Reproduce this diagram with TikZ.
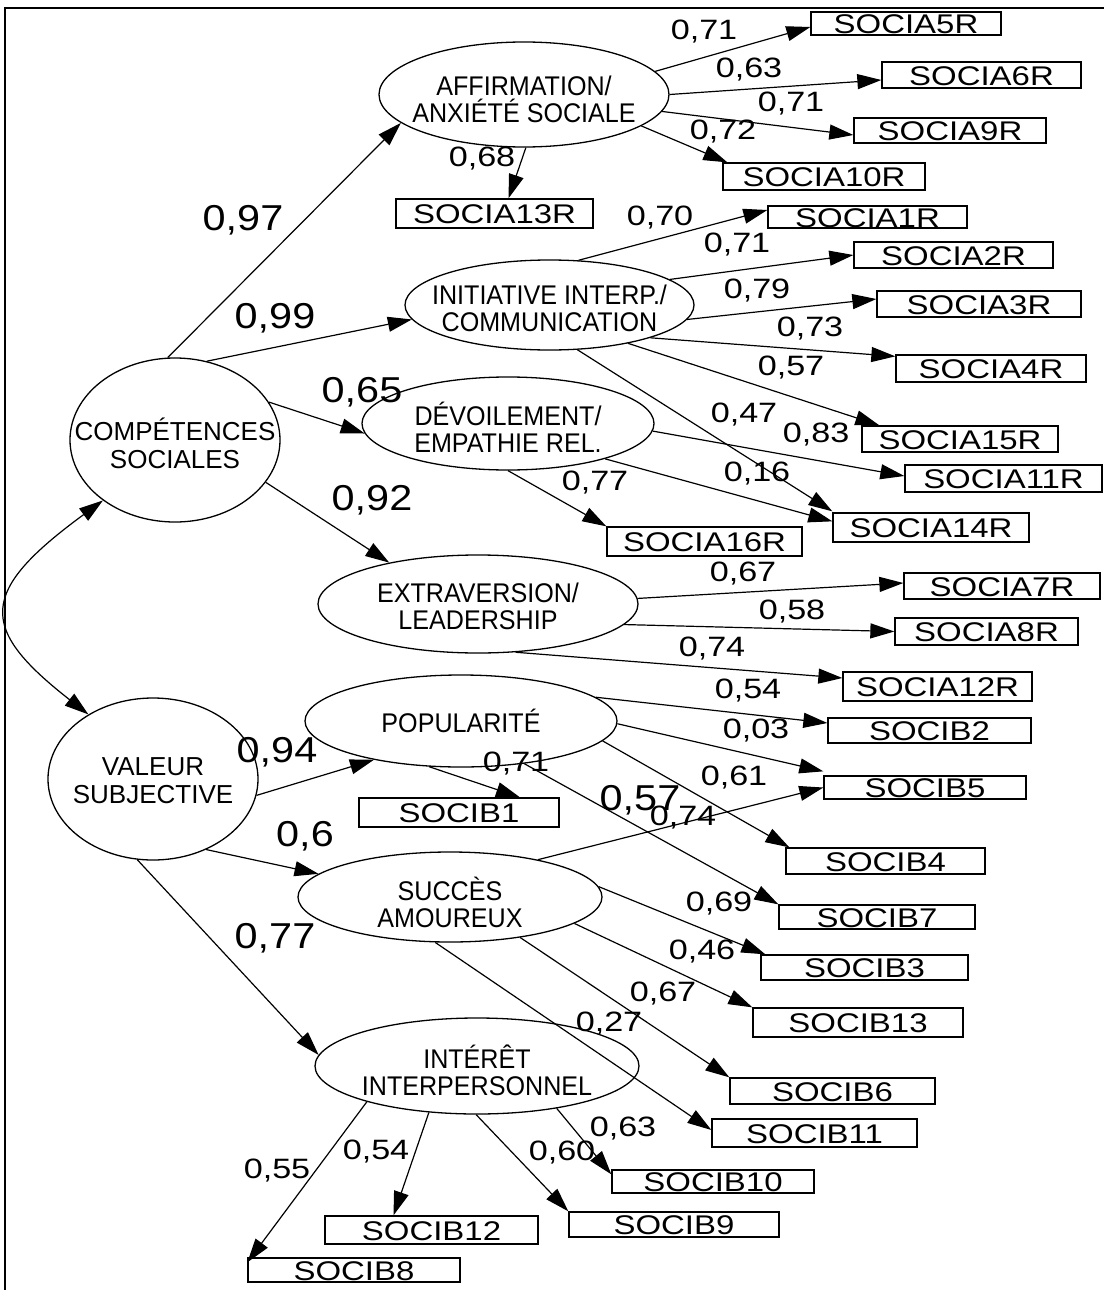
\documentclass[tikz,border=0pt]{standalone}
\usepackage{fontspec}
\setmainfont{Liberation Sans}
\newfontfamily\labfont[FakeStretch=1.22]{Liberation Sans}
\newfontfamily\coeffont[FakeStretch=1.15]{Liberation Sans}
\newfontfamily\latfont[FakeStretch=0.93]{Liberation Sans}
\usetikzlibrary{shapes.geometric,arrows.meta}
\begin{document}
\begin{tikzpicture}[x=1pt,y=-1pt,
  lat/.style={ellipse, draw, line width=1.3pt, inner sep=0pt},
  lattext/.style={inner sep=0pt, align=center, font=\latfont\fontsize{27}{27}\selectfont},
  bigtext/.style={inner sep=0pt, align=center, font=\fontsize{26}{28}\selectfont},
  obs/.style={rectangle, draw, line width=1.3pt, inner sep=0pt, text height=20pt, text depth=0pt, font=\labfont\fontsize{27}{27}\selectfont},
  ld/.style={-{Triangle[length=24pt,width=15pt]}, line width=1.2pt},
  sm/.style={font=\labfont\fontsize{28}{28}\selectfont, inner sep=0pt},
  bg/.style={font=\coeffont\fontsize{36}{36}\selectfont, inner sep=0pt}]
\useasboundingbox (0,0) rectangle (1104,1290);
\fill[white] (0,0) rectangle (1104,1290);
\draw[line width=1.8pt] (5,1290) -- (5,8) -- (1104,8);

% latent variables (shapes)
\node[lat, minimum width=290pt, minimum height=105pt] (A) at (524,94.5) {};
\node[lat, minimum width=289pt, minimum height=90pt] (I) at (549.5,305) {};
\node[lat, minimum width=292pt, minimum height=93pt] (D) at (508,423.5) {};
\node[lat, minimum width=320pt, minimum height=98pt] (E) at (478,604) {};
\node[lat, minimum width=312pt, minimum height=92pt] (P) at (461,721) {};
\node[lat, minimum width=304pt, minimum height=90pt] (S) at (450,897) {};
\node[lat, minimum width=324pt, minimum height=96pt] (T) at (477,1066) {};
\node[lat, minimum width=210pt, minimum height=164pt] (C) at (175,440) {};
\node[lat, minimum width=210pt, minimum height=162pt] (V) at (153,779) {};
% latent variables (texts)
\node[lattext] (At) at ([yshift=-5pt]A.center) {AFFIRMATION/\\ANXIÉTÉ SOCIALE};
\node[lattext] (It) at ([yshift=-3pt]I.center) {INITIATIVE INTERP./\\COMMUNICATION};
\node[lattext] (Dt) at ([yshift=-4pt]D.center) {DÉVOILEMENT/\\EMPATHIE REL.};
\node[lattext] (Et) at ([yshift=-2pt]E.center) {EXTRAVERSION/\\LEADERSHIP};
\node[lattext] (Pt) at (P.center) {POPULARITÉ};
\node[lattext] (St) at ([yshift=-5pt]S.center) {SUCCÈS\\AMOUREUX};
\node[lattext] (Tt) at ([yshift=-4pt]T.center) {INTÉRÊT\\INTERPERSONNEL};
\node[bigtext] (Ct) at ([yshift=-3pt]C.center) {COMPÉTENCES\\SOCIALES};
\node[bigtext] (Vt) at ([yshift=-1.5pt]V.center) {VALEUR\\SUBJECTIVE};

% observed variables
\node[obs, minimum width=190pt, minimum height=23pt] (s5) at (906,23.5) {SOCIA5R};
\node[obs, minimum width=199pt, minimum height=26pt] (s6) at (981.5,75) {SOCIA6R};
\node[obs, minimum width=192pt, minimum height=25pt] (s9) at (950,130.5) {SOCIA9R};
\node[obs, minimum width=202pt, minimum height=27pt] (s10) at (824,176.5) {SOCIA10R};
\node[obs, minimum width=197pt, minimum height=29pt] (s13) at (494.5,213.5) {SOCIA13R};
\node[obs, minimum width=199pt, minimum height=22pt] (s1) at (867.5,217) {SOCIA1R};
\node[obs, minimum width=199pt, minimum height=26pt] (s2) at (953.5,255) {SOCIA2R};
\node[obs, minimum width=204pt, minimum height=26pt] (s3) at (979,304) {SOCIA3R};
\node[obs, minimum width=190pt, minimum height=27pt] (s4) at (991,368.5) {SOCIA4R};
\node[obs, minimum width=196pt, minimum height=26pt] (s15) at (960,439) {SOCIA15R};
\node[obs, minimum width=197pt, minimum height=27pt] (s11) at (1003.5,478.5) {SOCIA11R};
\node[obs, minimum width=196pt, minimum height=29pt] (s14) at (931,527.5) {SOCIA14R};
\node[obs, minimum width=195pt, minimum height=29pt] (s16) at (704.5,541.5) {SOCIA16R};
\node[obs, minimum width=196pt, minimum height=26pt] (s7) at (1002,586) {SOCIA7R};
\node[obs, minimum width=183pt, minimum height=27pt] (s8) at (986.5,631.5) {SOCIA8R};
\node[obs, minimum width=189pt, minimum height=29pt] (s12) at (937.5,686.5) {SOCIA12R};
\node[obs, minimum width=203pt, minimum height=25pt] (b2) at (929.5,730.5) {SOCIB2};
\node[obs, minimum width=202pt, minimum height=23pt] (b5) at (925,787.5) {SOCIB5};
\node[obs, minimum width=200pt, minimum height=29pt] (b1) at (459,812.5) {SOCIB1};
\node[obs, minimum width=199pt, minimum height=26pt] (b4) at (885.5,861) {SOCIB4};
\node[obs, minimum width=196pt, minimum height=24pt] (b7) at (877,917) {SOCIB7};
\node[obs, minimum width=207pt, minimum height=25pt] (b3) at (864.5,967.5) {SOCIB3};
\node[obs, minimum width=210pt, minimum height=29pt] (b13) at (858,1022.5) {SOCIB13};
\node[obs, minimum width=205pt, minimum height=26pt] (b6) at (832.5,1091) {SOCIB6};
\node[obs, minimum width=205pt, minimum height=28pt] (b11) at (814.5,1133) {SOCIB11};
\node[obs, minimum width=202pt, minimum height=23pt] (b10) at (713,1181.5) {SOCIB10};
\node[obs, minimum width=210pt, minimum height=25pt] (b9) at (674,1224.5) {SOCIB9};
\node[obs, minimum width=213pt, minimum height=28pt] (b12) at (431.5,1230) {SOCIB12};
\node[obs, minimum width=212pt, minimum height=24pt] (b8) at (354,1270) {SOCIB8};

% structural paths
\draw[ld] (C.95) -- (A.193);
\draw[ld] (C.68) -- (I.186);
\draw[ld] (C.22) -- (D.184);
\draw[ld] (C.-25) -- (E.155);
\draw[ld] (V.-9) -- (P.204);
\draw[ld] (V.-53) -- (S.170);
\draw[ld] (V.-101) -- (T.176);
\draw[{Triangle[length=24pt,width=15pt]}-{Triangle[length=24pt,width=15pt]}, line width=1.2pt]
  (C.220) .. controls (-22,592) and (-22,628) .. (V.135);

% loadings
\draw[ld] (A.10) -- ([yshift=-3.5pt]s5.west);
\draw[ld] (A.0) -- ([yshift=-5pt]s6.west);
\draw[ld] (A.-7) -- ([yshift=-4.5pt]s9.west);
\draw[ld] (A.-15) -- ([xshift=5pt]s10.north west);
\draw[ld] (A.-88) -- ([xshift=14pt]s13.north);
\draw[ld] (I.57) -- ([yshift=7pt]s1.west);
\draw[ld] (I.12) -- (s2.west);
\draw[ld] (I.-6) -- ([yshift=5pt]s3.west);
\draw[ld] (I.-18) -- ([yshift=-2pt]s4.north west);
\draw[ld] (I.-26) -- ([xshift=18pt]s15.north west);
\draw[ld] (I.-58) -- ([yshift=1pt]s14.north west);
\draw[ld] (D.-3) -- ([yshift=2.5pt]s11.west);
\draw[ld] (D.-20) -- ([yshift=-9pt]s14.north west);
\draw[ld] (D.-90) -- (s16.north west);
\draw[ld] (E.2) -- ([yshift=3pt]s7.west);
\draw[ld] (E.-8) -- (s8.west);
\draw[ld] (E.-52) -- ([yshift=8.5pt]s12.west);
\draw[ld] (P.10) -- ([yshift=7.5pt]b2.west);
\draw[ld] (P.-1) -- ([yshift=4pt]b5.north west);
\draw[ld] (P.-8.5) -- ([xshift=4pt]b4.north west);
\draw[ld] (P.-34) -- (b7.north west);
\draw[ld] (P.-125) -- ([xshift=61pt]b1.north);
\draw[ld] (S.23) -- (b5.west);
\draw[ld] (S.4) -- ([xshift=5pt]b3.north west);
\draw[ld] (S.-12) -- (b13.north west);
\draw[ld] (S.-30) -- (b6.north west);
\draw[ld] (S.-108) -- ([yshift=3pt]b11.west);
\draw[ld] (T.-28) -- ([yshift=-5pt]b10.north west);
\draw[ld] (T.-91) -- (b9.north west);
\draw[ld] (T.-136) -- ([xshift=-38pt]b12.north);
\draw[ld] (T.198) -- ([yshift=-5pt]b8.north west);

% big coefficients
\node[bg] (k1) at (243,220) {0,97};
\node[bg] (k2) at (275,318) {0,99};
\node[bg] (k3) at (362,392) {0,65};
\node[bg] (k4) at (372,500) {0,92};
\node[bg] (k5) at (277,752) {0,94};
\node[bg] (k6) at (305,836) {0,6};
\node[bg] (k7) at (275,938) {0,77};
\node[bg] (k8) at (640,800) {0,57};

% small coefficients
\node[sm] (n1) at (704,32) {0,71};
\node[sm] (n2) at (749,70) {0,63};
\node[sm] (n3) at (791,104) {0,71};
\node[sm] (n4) at (723,132) {0,72};
\node[sm] (n5) at (482,159) {0,68};
\node[sm] (n6) at (660,218) {0,70};
\node[sm] (n7) at (737,245) {0,71};
\node[sm] (n8) at (757,291) {0,79};
\node[sm] (n9) at (810,329) {0,73};
\node[sm] (n10) at (791,368) {0,57};
\node[sm] (n11) at (744,415) {0,47};
\node[sm] (n12) at (816,435) {0,83};
\node[sm] (n13) at (757,474) {0,16};
\node[sm] (n14) at (595,483) {0,77};
\node[sm] (n15) at (743,574) {0,67};
\node[sm] (n16) at (792,612) {0,58};
\node[sm] (n17) at (712,649) {0,74};
\node[sm] (n18) at (748,691) {0,54};
\node[sm] (n19) at (756,731) {0,03};
\node[sm] (n20) at (734,778) {0,61};
\node[sm] (n21) at (516,764) {0,71};
\node[sm] (n22) at (683,818) {0,74};
\node[sm] (n23) at (719,904) {0,69};
\node[sm] (n24) at (702,952) {0,46};
\node[sm] (n25) at (663,994) {0,67};
\node[sm] (n26) at (609,1024) {0,27};
\node[sm] (n27) at (623,1129) {0,63};
\node[sm] (n28) at (562,1153) {0,60};
\node[sm] (n29) at (376,1152) {0,54};
\node[sm] (n30) at (277,1171) {0,55};
\end{tikzpicture}
\end{document}
